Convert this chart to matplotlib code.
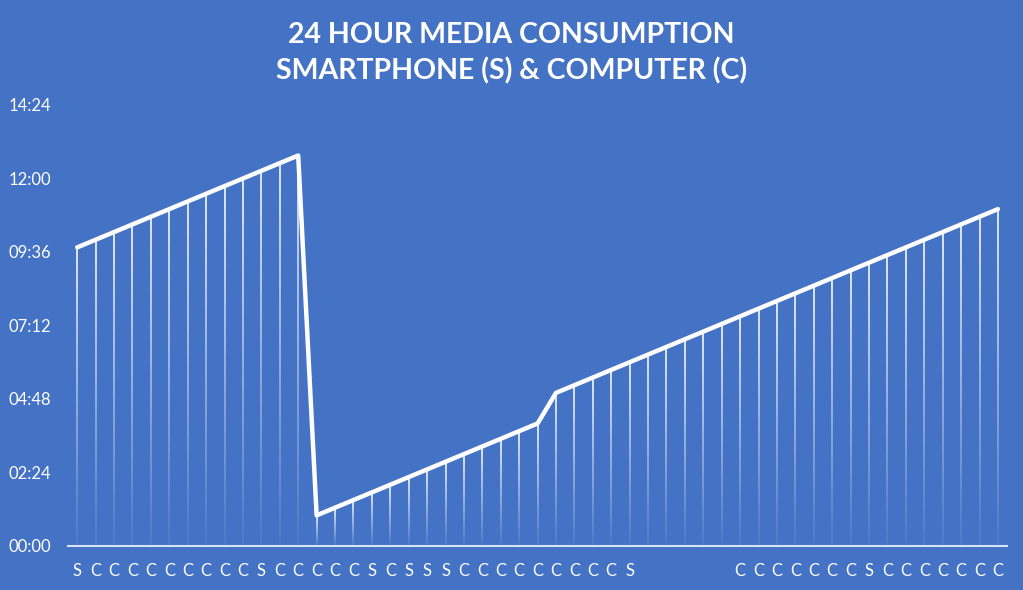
#24 hour media consumption chart, smartphone (S) vs computer (C)

import numpy as np
import matplotlib
matplotlib.use('Agg')
import matplotlib.pyplot as plt
from matplotlib.collections import LineCollection
from matplotlib.ticker import FuncFormatter, MultipleLocator

plt.rcParams['font.family'] = ['Lato', 'DejaVu Sans']

# device used in each 15 minute slot ('' = no label shown)
devices = ['S', 'C', 'C', 'C', 'C', 'C', 'C', 'C', 'C', 'C',
           'S', 'C', 'C', 'C', 'C', 'C', 'S', 'C', 'S', 'S',
           'S', 'C', 'C', 'C', 'C', 'C', 'C', 'C', 'C', 'C',
           'S', '', '', '', '', '', 'C', 'C', 'C', 'C',
           'C', 'C', 'C', 'S', 'C', 'C', 'C', 'C', 'C', 'C',
           'C']

# clock time of each slot
times = ['09:45', '10:00', '10:15', '10:30', '10:45', '11:00', '11:15', '11:30',
         '11:45', '12:00', '12:15', '12:30', '12:45', '01:00', '01:15', '01:30',
         '01:45', '02:00', '02:15', '02:30', '02:45', '03:00', '03:15', '03:30',
         '03:45', '04:00', '05:00', '05:15', '05:30', '05:45', '06:00', '06:15',
         '06:30', '06:45', '07:00', '07:15', '07:30', '07:45', '08:00', '08:15',
         '08:30', '08:45', '09:00', '09:15', '09:30', '09:45', '10:00', '10:15',
         '10:30', '10:45', '11:00']

hours = np.array([int(t[:2]) + int(t[3:]) / 60.0 for t in times])
x = np.arange(len(hours))

bg = '#4472C4'

fig = plt.figure(figsize=(10.23, 5.9), dpi=100, facecolor=bg)
ax = fig.add_axes([0.0665, 0.0746, 0.918, 0.7475])
ax.set_facecolor(bg)

# drop lines, fading out towards the bottom
nseg = 40
segs = []
alphas = []
for xi, yi in zip(x, hours):
    edges = np.linspace(0, yi, nseg + 1)
    for k in range(nseg):
        segs.append([(xi, edges[k]), (xi, edges[k + 1])])
        alphas.append(0.05 + 0.85 * (k + 0.5) / nseg)
cols = [(1, 1, 1, a) for a in alphas]
ax.add_collection(LineCollection(segs, colors=cols, linewidths=1.3, capstyle='butt'))

ax.plot(x, hours, color='white', lw=3.2, solid_joinstyle='round',
        solid_capstyle='round', zorder=3)

ax.set_xlim(-0.5, len(hours) - 0.5)
ax.set_ylim(0, 14.4)
ax.yaxis.set_major_locator(MultipleLocator(2.4))
ax.yaxis.set_major_formatter(FuncFormatter(
    lambda v, p: '%02d:%02d' % (int(round(v * 60)) // 60, int(round(v * 60)) % 60)))

ax.set_xticks(x)
ax.set_xticklabels(devices)
ax.tick_params(axis='both', length=0, colors='white', labelsize=12)
ax.tick_params(axis='x', pad=12)
ax.tick_params(axis='y', pad=12)
for lab in ax.get_yticklabels():
    lab.set_horizontalalignment('right')

for s in ['top', 'right', 'left']:
    ax.spines[s].set_visible(False)
ax.spines['bottom'].set_color('#D9E2F3')
ax.spines['bottom'].set_linewidth(1.5)

fig.text(0.5, 0.91, '24 HOUR MEDIA CONSUMPTION\nSMARTPHONE (S) & COMPUTER (C)',
         ha='center', va='center', color='white', fontsize=20.5, fontweight='bold',
         linespacing=1.45)

fig.savefig('out.png', dpi=100, facecolor=bg)
